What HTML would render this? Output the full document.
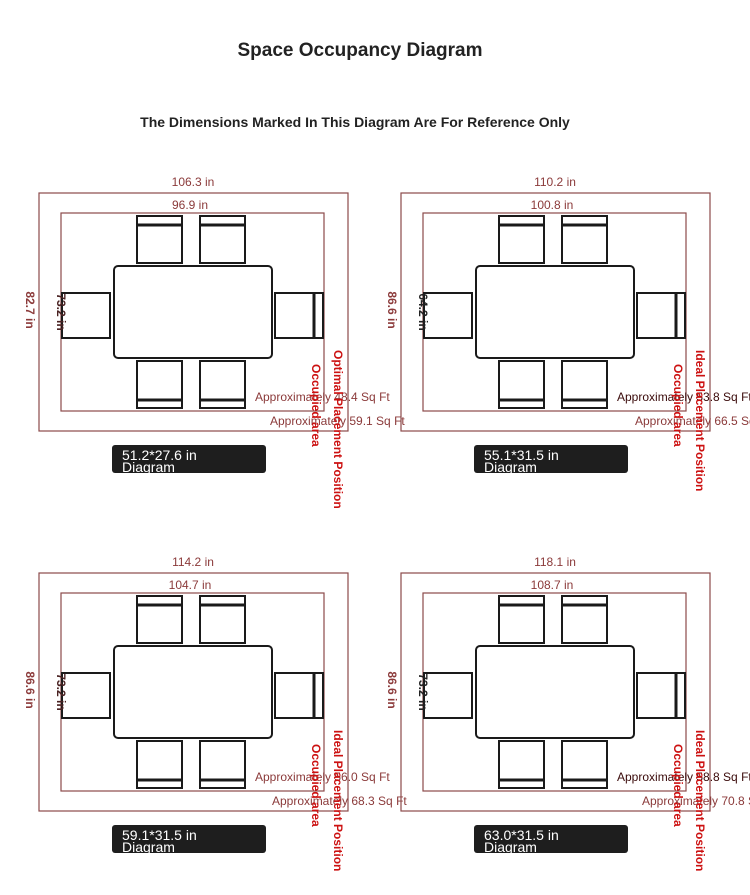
<!DOCTYPE html>
<html><head><meta charset="utf-8"><style>
html,body{margin:0;padding:0;background:#fff;width:750px;height:895px;overflow:hidden}
svg{display:block;font-family:"Liberation Sans",sans-serif}
</style></head><body>
<svg width="750" height="895" viewBox="0 0 750 895" xmlns="http://www.w3.org/2000/svg">
<defs>
<g id="furn" fill="#fff" stroke="#1a1a1a" stroke-width="2">
  <rect x="137" y="216" width="45" height="47"/><line x1="137" y1="225" x2="182" y2="225" stroke-width="3"/>
  <rect x="200" y="216" width="45" height="47"/><line x1="200" y1="225" x2="245" y2="225" stroke-width="3"/>
  <rect x="137" y="361" width="45" height="47"/><line x1="137" y1="400" x2="182" y2="400" stroke-width="3"/>
  <rect x="200" y="361" width="45" height="47"/><line x1="200" y1="400" x2="245" y2="400" stroke-width="3"/>
  <rect x="62" y="293" width="48" height="45"/>
  <rect x="275" y="293" width="48" height="45"/><line x1="314" y1="293" x2="314" y2="338" stroke-width="3"/>
  <rect x="114" y="266" width="158" height="92" rx="4"/>
</g>
<g id="rects" fill="none" stroke="#8b4a4a" stroke-width="1.2">
  <rect x="39" y="193" width="309" height="238"/>
  <rect x="61" y="213" width="263" height="198"/>
</g>
</defs>

<text x="360" y="56" text-anchor="middle" font-size="19" font-weight="bold" fill="#222">Space Occupancy Diagram</text>
<text x="355" y="127" text-anchor="middle" font-size="14" font-weight="600" fill="#222">The Dimensions Marked In This Diagram Are For Reference Only</text>

<g>
<use href="#rects"/><use href="#furn"/>
<g font-size="12" fill="#8b3a3a">
<text x="193" y="186" text-anchor="middle">106.3 in</text>
<text x="190" y="209" text-anchor="middle">96.9 in</text>
<text transform="translate(26,310) rotate(90)" text-anchor="middle" font-weight="bold">82.7 in</text>
<text transform="translate(57,312) rotate(90)" text-anchor="middle" font-weight="bold" fill="#4a2222">73.2 in</text>
<text x="255" y="401">Approximately 48.4 Sq Ft</text>
<text x="270" y="425">Approximately 59.1 Sq Ft</text>
</g>
<text transform="translate(312,364) rotate(90)" font-size="12" font-weight="bold" fill="#cc1111">Occupied area</text>
<text transform="translate(334,350) rotate(90)" font-size="12" font-weight="bold" fill="#cc1111">Optimal Placement Position</text>
<rect x="112" y="445" width="154" height="28" rx="3" fill="#1e1e1e"/>
<text x="122" y="460" font-size="14" fill="#fff">51.2*27.6 in</text>
<text x="122" y="472" font-size="14" fill="#fff">Diagram</text>
</g>

<g transform="translate(362,0)">
<use href="#rects"/><use href="#furn"/>
<g font-size="12" fill="#8b3a3a">
<text x="193" y="186" text-anchor="middle">110.2 in</text>
<text x="190" y="209" text-anchor="middle">100.8 in</text>
<text transform="translate(26,310) rotate(90)" text-anchor="middle" font-weight="bold">86.6 in</text>
<text transform="translate(57,312) rotate(90)" text-anchor="middle" font-weight="bold" fill="#222">64.2 in</text>
<text x="255" y="401" fill="#3a0a0a">Approximately 53.8 Sq Ft</text>
<text x="273" y="425">Approximately 66.5 Sq Ft</text>
</g>
<text transform="translate(312,364) rotate(90)" font-size="12" font-weight="bold" fill="#cc1111">Occupied area</text>
<text transform="translate(334,350) rotate(90)" font-size="12" font-weight="bold" fill="#cc1111">Ideal Placement Position</text>
<rect x="112" y="445" width="154" height="28" rx="3" fill="#1e1e1e"/>
<text x="122" y="460" font-size="14" fill="#fff">55.1*31.5 in</text>
<text x="122" y="472" font-size="14" fill="#fff">Diagram</text>
</g>

<g transform="translate(0,380)">
<use href="#rects"/><use href="#furn"/>
<g font-size="12" fill="#8b3a3a">
<text x="193" y="186" text-anchor="middle">114.2 in</text>
<text x="190" y="209" text-anchor="middle">104.7 in</text>
<text transform="translate(26,310) rotate(90)" text-anchor="middle" font-weight="bold">86.6 in</text>
<text transform="translate(57,312) rotate(90)" text-anchor="middle" font-weight="bold" fill="#4a2222">73.2 in</text>
<text x="255" y="401">Approximately 56.0 Sq Ft</text>
<text x="272" y="425">Approximately 68.3 Sq Ft</text>
</g>
<text transform="translate(312,364) rotate(90)" font-size="12" font-weight="bold" fill="#cc1111">Occupied area</text>
<text transform="translate(334,350) rotate(90)" font-size="12" font-weight="bold" fill="#cc1111">Ideal Placement Position</text>
<rect x="112" y="445" width="154" height="28" rx="3" fill="#1e1e1e"/>
<text x="122" y="460" font-size="14" fill="#fff">59.1*31.5 in</text>
<text x="122" y="472" font-size="14" fill="#fff">Diagram</text>
</g>

<g transform="translate(362,380)">
<use href="#rects"/><use href="#furn"/>
<g font-size="12" fill="#8b3a3a">
<text x="193" y="186" text-anchor="middle">118.1 in</text>
<text x="190" y="209" text-anchor="middle">108.7 in</text>
<text transform="translate(26,310) rotate(90)" text-anchor="middle" font-weight="bold">86.6 in</text>
<text transform="translate(57,312) rotate(90)" text-anchor="middle" font-weight="bold" fill="#222">73.2 in</text>
<text x="255" y="401" fill="#3a0a0a">Approximately 58.8 Sq Ft</text>
<text x="280" y="425">Approximately 70.8 Sq Ft</text>
</g>
<text transform="translate(312,364) rotate(90)" font-size="12" font-weight="bold" fill="#cc1111">Occupied area</text>
<text transform="translate(334,350) rotate(90)" font-size="12" font-weight="bold" fill="#cc1111">Ideal Placement Position</text>
<rect x="112" y="445" width="154" height="28" rx="3" fill="#1e1e1e"/>
<text x="122" y="460" font-size="14" fill="#fff">63.0*31.5 in</text>
<text x="122" y="472" font-size="14" fill="#fff">Diagram</text>
</g>
</svg>
</body></html>
